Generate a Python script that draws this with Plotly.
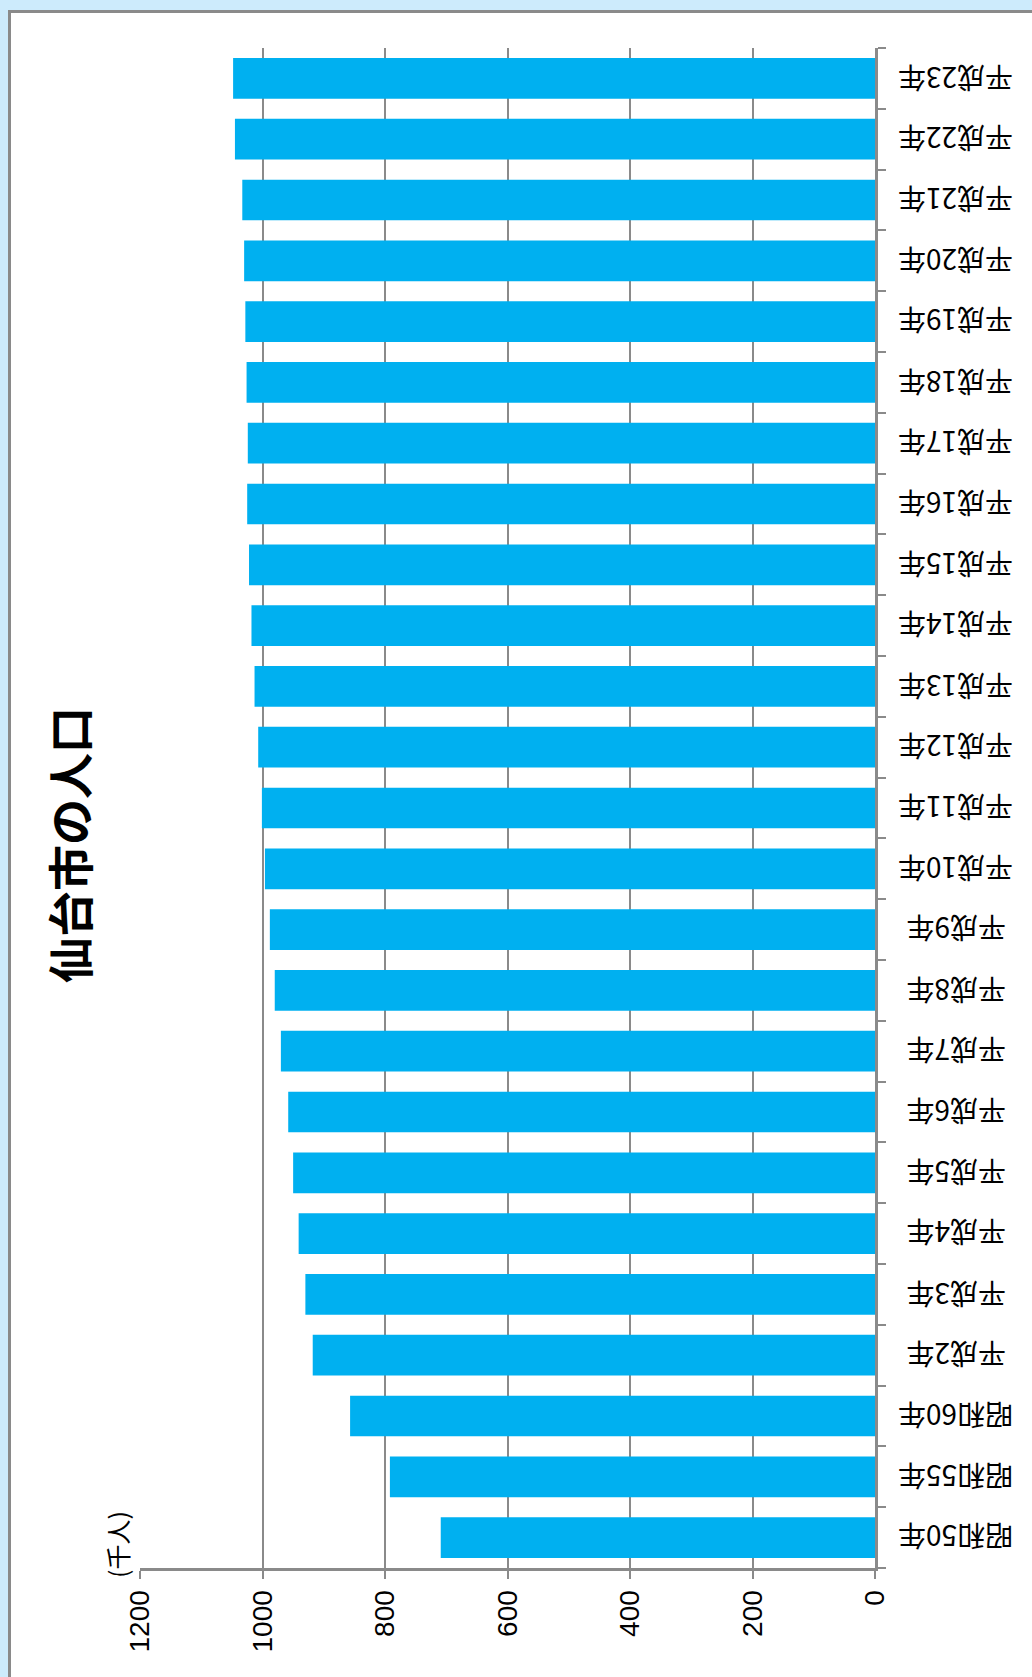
import plotly.graph_objects as go

categories = ["昭和50年", "昭和55年", "昭和60年", "平成2年", "平成3年", "平成4年", "平成5年",
              "平成6年", "平成7年", "平成8年", "平成9年", "平成10年", "平成11年", "平成12年",
              "平成13年", "平成14年", "平成15年", "平成16年", "平成17年", "平成18年",
              "平成19年", "平成20年", "平成21年", "平成22年", "平成23年"]
population = [709, 792, 857, 918, 930, 941, 950, 958, 970, 980, 988, 996, 1001, 1007,
              1013, 1018, 1022, 1025, 1024, 1026, 1028, 1030, 1033, 1045, 1048]
value_ticks = [0, 200, 400, 600, 800, 1000, 1200]
title_text = "仙台市の人口"
unit_text = "(千人)"

W, H = 1032, 1677
ML, MR, MT, MB = 140, 157, 48, 109
PW, PH = W - ML - MR, H - MT - MB

def px(x):
    return (x - ML) / PW

def py(y):
    return (H - MB - y) / PH

GRAY = "#8a8a8a"

fig = go.Figure(go.Bar(
    x=population, y=categories, orientation="h",
    marker=dict(color="#00B0F0", line=dict(width=0)),
))

label_annotations = [
    dict(text=c, xref="paper", yref="y", x=px(956), y=c, textangle=180,
         showarrow=False, xanchor="center", yanchor="middle",
         font=dict(family="Noto Sans CJK JP", size=28, color="black"))
    for c in categories
]

fig.update_layout(
    width=W, height=H,
    margin=dict(l=ML, r=MR, t=MT, b=MB, pad=0),
    paper_bgcolor="#CDEBFC",
    plot_bgcolor="rgba(0,0,0,0)",
    bargap=0.33,
    showlegend=False,
    xaxis=dict(
        range=[1200, 0], tickvals=value_ticks, ticktext=[str(v) for v in value_ticks],
        tickangle=-90, showgrid=True, gridcolor=GRAY, gridwidth=2,
        showline=True, linecolor=GRAY, linewidth=3, zeroline=False,
        ticks="outside", ticklen=8, tickwidth=2, tickcolor=GRAY,
        tickfont=dict(family="Liberation Sans, Arial", size=28, color="black"),
        fixedrange=True,
    ),
    yaxis=dict(
        side="right", type="category", showticklabels=False, showgrid=False,
        showline=True, linecolor=GRAY, linewidth=3, zeroline=False,
        ticks="outside", tickson="boundaries", ticklen=8, tickwidth=2, tickcolor=GRAY,
        fixedrange=True,
    ),
    shapes=[dict(type="rect", xref="paper", yref="paper",
                 x0=px(9.5), x1=px(1060), y0=py(1700), y1=py(11.5),
                 fillcolor="white", line=dict(color=GRAY, width=3), layer="below")],
    annotations=[
        dict(text="<b>" + title_text + "</b>", xref="paper", yref="paper",
             x=px(68), y=py(845), textangle=-90, showarrow=False,
             font=dict(family="Noto Sans CJK JP", size=46, color="black"),
             xanchor="center", yanchor="middle"),
        dict(text=unit_text, xref="paper", yref="paper",
             x=px(117), y=py(1545), textangle=-90, showarrow=False,
             font=dict(family="Noto Sans CJK JP", size=25, color="black"),
             xanchor="center", yanchor="middle"),
    ] + label_annotations,
)

fig.write_html("out.html", config={"displayModeBar": False},
               post_script="document.body.style.margin='0';document.body.style.overflow='hidden';")
